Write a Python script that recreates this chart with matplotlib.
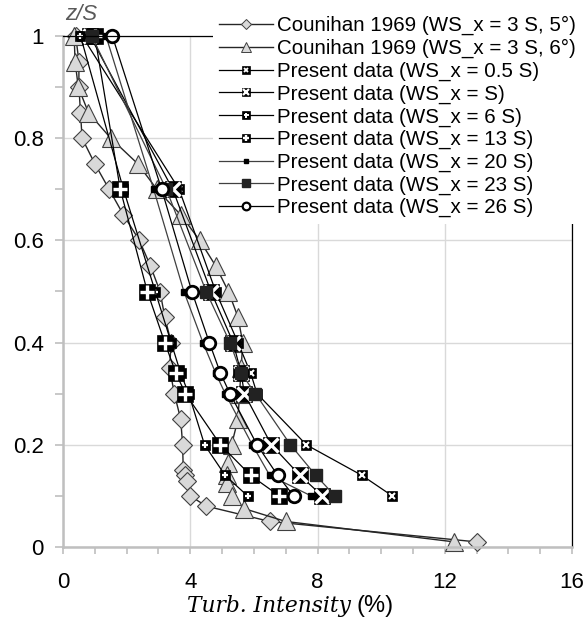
import matplotlib
matplotlib.use('Agg')
import matplotlib.pyplot as plt
from matplotlib.lines import Line2D
from matplotlib.legend_handler import HandlerTuple
from matplotlib.ticker import MultipleLocator, FuncFormatter

plt.rcParams['font.family'] = ['Liberation Sans', 'DejaVu Sans']

# Counihan 1969 profiles
cz5 = [1.0, 0.95, 0.9, 0.85, 0.8, 0.75, 0.7, 0.65, 0.6, 0.55, 0.5, 0.45, 0.4, 0.35,
       0.3, 0.25, 0.2, 0.15, 0.14, 0.13, 0.1, 0.08, 0.05, 0.01]
cti5 = [0.4, 0.5, 0.5, 0.55, 0.6, 1.0, 1.45, 1.9, 2.4, 2.75, 3.05, 3.2, 3.4, 3.35,
        3.5, 3.7, 3.76, 3.78, 3.84, 3.9, 4.0, 4.5, 6.5, 13.0]
cz6 = [1.0, 0.95, 0.9, 0.85, 0.8, 0.75, 0.7, 0.65, 0.6, 0.55, 0.5, 0.45, 0.4, 0.35,
       0.3, 0.25, 0.2, 0.165, 0.14, 0.125, 0.1, 0.075, 0.05, 0.01]
cti6 = [0.35, 0.38, 0.48, 0.8, 1.5, 2.35, 2.95, 3.7, 4.3, 4.8, 5.2, 5.5, 5.65, 5.6,
        5.55, 5.5, 5.3, 5.2, 5.15, 5.15, 5.3, 5.7, 7.0, 12.3]

# present data, same heights for every station
pz = [1.0, 0.7, 0.5, 0.4, 0.34, 0.3, 0.2, 0.14, 0.1]
ws05 = [0.6, 3.65, 4.8, 5.5, 5.9, 6.1, 7.65, 9.4, 10.35]
ws1 = [0.85, 3.45, 4.65, 5.35, 5.6, 5.7, 6.55, 7.45, 8.15]
ws6 = [0.55, 1.9, 2.9, 3.4, 3.7, 3.95, 4.45, 5.1, 5.8]
ws13 = [1.0, 1.8, 2.65, 3.2, 3.55, 3.85, 4.95, 5.9, 6.8]
ws20 = [1.35, 2.85, 3.8, 4.4, 4.8, 5.1, 5.95, 6.5, 7.8]
ws23 = [0.9, 3.25, 4.5, 5.25, 5.6, 6.05, 7.15, 7.95, 8.55]
ws26 = [1.55, 3.1, 4.05, 4.6, 4.95, 5.25, 6.1, 6.75, 7.25]

labels = ['Counihan 1969 (WS_x = 3 S, 5°)', 'Counihan 1969 (WS_x = 3 S, 6°)',
          'Present data (WS_x = 0.5 S)', 'Present data (WS_x = S)',
          'Present data (WS_x = 6 S)', 'Present data (WS_x = 13 S)',
          'Present data (WS_x = 20 S)', 'Present data (WS_x = 23 S)',
          'Present data (WS_x = 26 S)']

fig = plt.figure(figsize=(5.86, 6.17), dpi=100)
ax = fig.add_axes([63/586, 1-547/617, 509/586, 511/617])

gray = '#d9d9d9'
edge = '#404040'


def boxed(x, y, size, sym, symsize, symw):
    # black square with a white symbol on top
    ax.plot(x, y, color='black', lw=0.9, marker='s', ms=size, mfc='black',
            mec='black', mew=0.5, clip_on=False)
    ax.plot(x, y, ls='none', marker=sym, ms=symsize, mec='white', mew=symw,
            clip_on=False)


def boxed_key(size, sym, symsize, symw):
    base = Line2D([], [], color='black', lw=0.9, marker='s', ms=size, mfc='black',
                  mec='black', mew=0.5)
    top = Line2D([], [], ls='none', marker=sym, ms=symsize, mec='white', mew=symw)
    return (base, top)


ax.plot(cti5, cz5, color='#262626', lw=1, marker='D', ms=9.5, mfc=gray,
        mec=edge, mew=0.8, clip_on=False)
ax.plot(cti6, cz6, color='#262626', lw=1, marker='^', ms=13, mfc=gray,
        mec=edge, mew=0.8, clip_on=False)
boxed(ws05, pz, 6.5, 'x', 4.2, 1.5)
boxed(ws1, pz, 12, 'x', 9.5, 2.4)
boxed(ws6, pz, 6.5, '+', 4.8, 1.6)
boxed(ws13, pz, 12, '+', 10, 2.4)
ax.plot(ws20, pz, color='#404040', lw=0.9, marker='s', ms=3.8, mfc='black',
        mec='black', clip_on=False)
ax.plot(ws23, pz, color='#404040', lw=0.9, marker='s', ms=8, mfc='#222222',
        mec='#222222', clip_on=False)
ax.plot(ws26, pz, color='black', lw=0.9, marker='o', ms=9, mfc='white',
        mec='black', mew=2, clip_on=False)

# legend keys are drawn smaller than the plotted marks
keys = [
    Line2D([], [], color='#262626', lw=1, marker='D', ms=5, mfc=gray, mec=edge, mew=0.7),
    Line2D([], [], color='#262626', lw=1, marker='^', ms=6.5, mfc=gray, mec=edge, mew=0.7),
    boxed_key(5.2, 'x', 3.3, 1.3),
    boxed_key(6.2, 'x', 4.6, 1.6),
    boxed_key(5.2, '+', 3.6, 1.4),
    boxed_key(6.2, '+', 4.8, 1.7),
    Line2D([], [], color='#404040', lw=0.9, marker='s', ms=3, mfc='black', mec='black'),
    Line2D([], [], color='#404040', lw=0.9, marker='s', ms=6, mfc='#222222', mec='#222222'),
    Line2D([], [], color='black', lw=0.9, marker='o', ms=5.5, mfc='white', mec='black', mew=1.6),
]

ax.set_xlim(0, 16)
ax.set_ylim(0, 1)
ax.xaxis.set_major_locator(MultipleLocator(4))
ax.xaxis.set_minor_locator(MultipleLocator(1))
ax.yaxis.set_major_locator(MultipleLocator(0.2))
ax.yaxis.set_minor_locator(MultipleLocator(0.1))
ax.yaxis.set_major_formatter(FuncFormatter(lambda v, p: '%g' % round(v, 2)))
ax.grid(True, which='major', color=gray, lw=1)
ax.set_axisbelow(True)

for s in ['left', 'bottom']:
    ax.spines[s].set_color('#bfbfbf')
    ax.spines[s].set_linewidth(1.8)
for s in ['top', 'right']:
    ax.spines[s].set_color('black')
    ax.spines[s].set_linewidth(0.9)

ax.tick_params(axis='x', which='both', direction='out', color='#bfbfbf', width=1.2,
               length=5, labelsize=16, pad=13)
ax.tick_params(axis='y', which='both', direction='out', color='#bfbfbf', width=1.2,
               length=6, labelsize=16, pad=8)

# x label: italic serif quantity name followed by the unit
fig.text(351/586, 1-612/617, 'Turb. Intensity', ha='right', va='baseline',
         fontsize=15.7, family='DejaVu Serif', style='italic')
fig.text(356/586, 1-612/617, '(%)', ha='left', va='baseline', fontsize=17)
fig.text(81/586, 1-15/617, 'z/S', ha='center', va='center', fontsize=16,
         style='italic', color='#595959')

leg = ax.legend(keys, labels, handler_map={tuple: HandlerTuple(ndivide=1)},
                loc='upper left', bbox_to_anchor=(213/586, 1-10/617),
                bbox_transform=fig.transFigure, frameon=True, facecolor='white',
                edgecolor='none', framealpha=1, fancybox=False, borderpad=0.3,
                borderaxespad=0, handlelength=2.6, handletextpad=0.2,
                labelspacing=0.17, fontsize=14.8)
leg.set_zorder(10)

fig.savefig('out.png', dpi=100)
